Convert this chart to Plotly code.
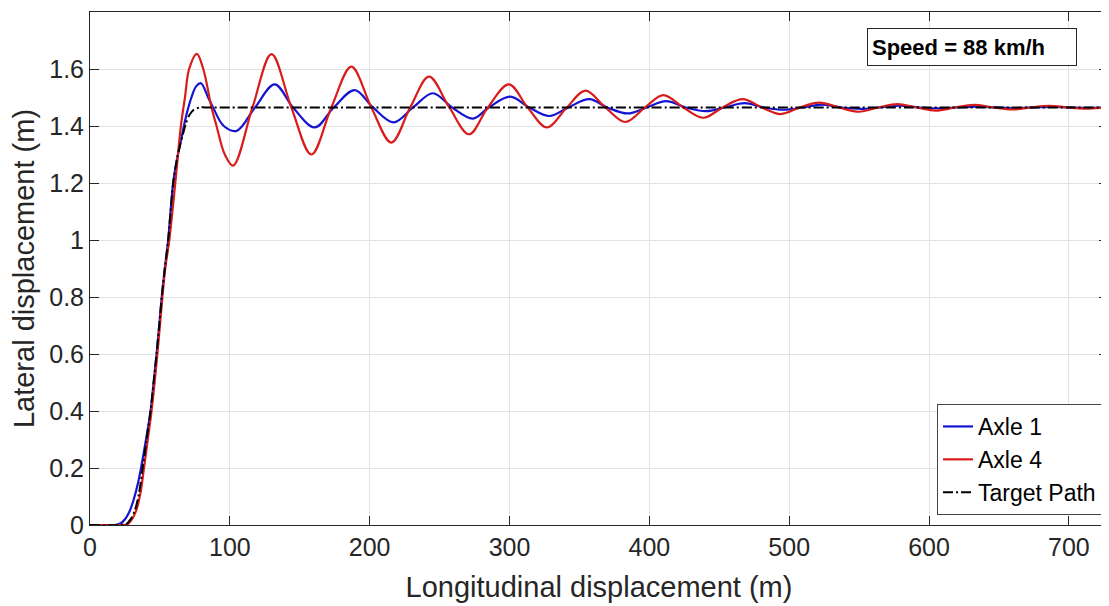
import plotly.graph_objects as go

# ---- data ----
target_x = [0, 20, 26, 29, 32, 35, 37.6, 40.5, 43.3, 45.5, 47.6, 49.5, 51.3, 53.5, 55.9,
            59.5, 62, 64.3, 66.5, 68.3, 71, 74, 78.6, 85, 100, 200, 300, 400, 500, 600, 700, 728]
target_y = [0, 0, 0.003, 0.02, 0.05, 0.11, 0.2, 0.3, 0.4, 0.5, 0.6, 0.7, 0.8, 0.9, 1.0,
            1.2, 1.28, 1.33, 1.372, 1.405, 1.438, 1.456, 1.465, 1.465, 1.465, 1.465, 1.465,
            1.465, 1.465, 1.465, 1.465, 1.465]

axle1_x = [0, 18, 22, 25, 28, 31, 34, 36.5, 39, 43.3, 45.5, 47.6, 49.5, 51.3, 53.5, 55.9,
           59.5, 62.5, 65.5, 68.5, 72.5, 76, 79.3, 84.5, 88, 95.7, 104.8, 118, 132.1, 145.2, 160.7,
           174.3, 189.3, 202.4, 217.1, 231, 245.2, 259, 273.8, 285.2, 300.5, 314, 328.6,
           342, 357.1, 370, 384.5, 398, 411.9, 426, 440.5, 454, 468, 482, 496, 510, 523,
           537, 552, 565, 579, 593, 607, 620, 634, 648, 662, 675, 688, 702, 716, 728]
axle1_y = [0, 0, 0.006, 0.02, 0.045, 0.085, 0.14, 0.2, 0.27, 0.4, 0.5, 0.6, 0.7, 0.8, 0.9, 1.0,
           1.2, 1.29, 1.36, 1.43, 1.5, 1.54, 1.55, 1.5, 1.465, 1.4, 1.383, 1.465, 1.546, 1.465, 1.395,
           1.465, 1.526, 1.465, 1.413, 1.465, 1.515, 1.465, 1.426, 1.465, 1.503, 1.465, 1.435,
           1.465, 1.494, 1.465, 1.444, 1.465, 1.487, 1.465, 1.452, 1.465, 1.480, 1.465, 1.457,
           1.465, 1.475, 1.465, 1.460, 1.465, 1.471, 1.465, 1.462, 1.465, 1.468, 1.465, 1.463,
           1.465, 1.467, 1.465, 1.464, 1.465]

axle4_x = [0, 22, 27, 30, 33, 36, 38.6, 41.3, 44, 46.2, 48.2, 50, 51.8, 53.8, 56.7, 61,
           65, 67.9, 70.9, 76.4, 81, 86.9, 90.5, 96.4, 102.4, 116.2, 129.8, 144, 158.3,
           172.6, 186.9, 201.2, 215.5, 229, 242.4, 257, 271, 284.5, 299.5, 313, 326.7, 341,
           354.3, 368.6, 382.9, 396.9, 410, 424.3, 438.6, 452.4, 466.7, 480.5, 494, 507.7,
           521.4, 535.7, 550, 563.7, 577.4, 591, 604.8, 618.5, 632.1, 645.8, 659.5, 672.6,
           685.7, 699, 712, 728]
axle4_y = [0, 0, 0.003, 0.02, 0.05, 0.11, 0.2, 0.3, 0.4, 0.5, 0.6, 0.7, 0.8, 0.9, 1.0, 1.2,
           1.4, 1.5, 1.6, 1.653, 1.6, 1.465, 1.4, 1.3, 1.261, 1.465, 1.652, 1.465, 1.30,
           1.465, 1.608, 1.465, 1.342, 1.465, 1.573, 1.465, 1.371, 1.465, 1.546, 1.465, 1.395, 1.465,
           1.524, 1.465, 1.414, 1.465, 1.508, 1.465, 1.429, 1.465, 1.494, 1.465, 1.442, 1.465,
           1.482, 1.465, 1.450, 1.465, 1.477, 1.465, 1.454, 1.465, 1.474, 1.465, 1.458, 1.465,
           1.471, 1.465, 1.461, 1.466]

x_ticks = [0, 100, 200, 300, 400, 500, 600, 700]
y_ticks = [0, 0.2, 0.4, 0.6, 0.8, 1.0, 1.2, 1.4, 1.6]
y_ticktext = ["0", "0.2", "0.4", "0.6", "0.8", "1", "1.2", "1.4", "1.6"]

FONT = "Liberation Sans, Arial, Helvetica, sans-serif"
INK = "#262626"

fig = go.Figure()
fig.add_trace(go.Scatter(x=axle1_x, y=axle1_y, mode="lines", name="Axle 1",
                         line=dict(color="#1414d2", width=2.2, shape="spline", smoothing=1)))
fig.add_trace(go.Scatter(x=axle4_x, y=axle4_y, mode="lines", name="Axle 4",
                         line=dict(color="#d81c1c", width=2.2, shape="spline", smoothing=1)))
fig.add_trace(go.Scatter(x=target_x, y=target_y, mode="lines", name="Target Path",
                         line=dict(color="black", width=2, dash="10px,3px,2px,3px",
                                   shape="spline", smoothing=0.8)))

axis_common = dict(
    automargin=False,
    showline=True, linecolor=INK, linewidth=1, mirror="ticks",
    ticks="inside", ticklen=9, tickcolor=INK, tickwidth=1,
    showgrid=True, gridcolor="#e2e2e2", gridwidth=1, zeroline=False,
    tickfont=dict(family=FONT, size=25, color=INK),
)

fig.update_xaxes(range=[0, 728], tickvals=x_ticks,
                 title=dict(text="Longitudinal displacement (m)",
                            font=dict(family=FONT, size=29, color=INK), standoff=16),
                 **axis_common)
fig.update_yaxes(range=[0, 1.8], tickvals=y_ticks, ticktext=y_ticktext,
                 title=dict(text="Lateral displacement (m)",
                            font=dict(family=FONT, size=29, color=INK), standoff=9),
                 **axis_common)

fig.add_annotation(xref="paper", yref="paper", x=0.866, y=0.9327,
                   xanchor="center", yanchor="middle",
                   text="<b>Speed = 88 km/h</b>", showarrow=False, align="left",
                   width=200, height=28, borderpad=4,
                   bordercolor=INK, borderwidth=1, bgcolor="white",
                   font=dict(family=FONT, size=22, color="black"))

# the page body adds an 8px offset, so the figure is sized to fill the rest of the window
fig.update_layout(
    width=1101, height=598,
    margin=dict(l=82, r=1, t=4, b=81, autoexpand=False),
    paper_bgcolor="white", plot_bgcolor="white",
    font=dict(family=FONT, color=INK),
    legend=dict(x=0.9941, y=0.0195, xanchor="right", yanchor="bottom",
                bgcolor="white", bordercolor="#444444", borderwidth=1,
                font=dict(family=FONT, size=23, color="black"),
                itemwidth=30),
    showlegend=True,
)

fig.write_html("out.html")
